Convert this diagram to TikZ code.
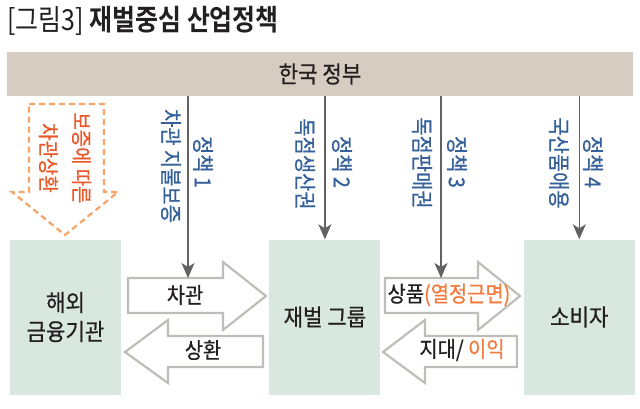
\documentclass[tikz,border=0pt]{standalone}
\usepackage{fontspec}
\setmainfont{Noto Sans CJK KR}[FakeStretch=0.9, FakeBold=0.6]
\newfontfamily\thinfont{Noto Sans CJK KR}[FakeStretch=0.86]
\newfontfamily\heavyfont{Noto Sans CJK KR Bold}[FakeStretch=0.86]
\usetikzlibrary{positioning, calc, arrows.meta}

\definecolor{govband}{HTML}{D6CCC1}
\definecolor{actorfill}{HTML}{D9E7E1}
\definecolor{policyblue}{HTML}{35609A}
\definecolor{policyline}{HTML}{626262}
\definecolor{flowgray}{HTML}{BEBEB8}
\definecolor{guaranteeline}{HTML}{F7A468}
\definecolor{guaranteetext}{HTML}{E8592A}
\definecolor{gainorange}{HTML}{F27A3C}
\definecolor{inkblack}{HTML}{231F20}

\begin{document}
\begin{tikzpicture}[
    x=1pt, y=-1pt,
    % Block styles
    band/.style={
      rectangle, fill=govband, inner sep=0pt,
      minimum width=626pt, minimum height=44pt,
      font=\fontsize{23.5}{26}\selectfont, text=inkblack
    },
    actor/.style={
      rectangle, fill=actorfill, inner sep=0pt,
      minimum width=111pt, minimum height=155pt,
      font=\fontsize{23.5}{29}\selectfont, text=inkblack, align=center
    },
    vlabel/.style={
      rotate=-90, inner sep=0pt,
      font=\fontsize{22}{24}\selectfont, text=policyblue
    },
    flowlabel/.style={
      inner sep=0pt, font=\fontsize{22}{24}\selectfont, text=inkblack
    },
    guaranteelabel/.style={
      rotate=-90, inner sep=0pt, align=center,
      font=\fontsize{21}{33}\selectfont, text=guaranteetext
    },
    % Line styles
    policy/.style={
      draw=policyline, line width=1.6pt,
      -{Stealth[length=15pt, width=13pt, inset=4pt]}
    },
    flow/.style={draw=flowgray, fill=white, line width=2.2pt, line join=miter},
    guarantee/.style={
      draw=guaranteeline, line width=2.2pt, dash pattern=on 6pt off 4pt
    },
  ]
  \useasboundingbox (0,0) rectangle (640,408);

  % === Title ===
  \node[anchor=west, inner sep=0pt, font=\fontsize{29}{32}\selectfont, text=inkblack]
    (title) at (7,21) {{\thinfont [그림3]} {\heavyfont 재벌중심 산업정책}};

  % === Government band ===
  \node[band] (gov) at (320,74) {한국 정부};

  % === Actors ===
  \node[actor] (fin) at (65.5,317) {해외\\금융기관};
  \node[actor, right=148pt of fin] (chaebol) {재벌 그룹};
  \node[actor, right=143pt of chaebol] (consumer) {소비자};

  % === Guarantee arrow (dashed) ===
  \draw[guarantee] (29,104) -- (104,104) -- (104,192) -- (118,192)
    -- (65,235) -- (12,192) -- (29,192) -- cycle;
  \node[guaranteelabel] (guarantee) at (65,158) {보증에 따른\\차관상환};

  % === Flow arrows ===
  \draw[flow] (128,278) -- (223,278) -- (223,262) -- (266,296)
    -- (223,330) -- (223,313) -- (128,313) -- cycle;
  \draw[flow] (263,336) -- (168,336) -- (168,320) -- (125,352)
    -- (168,383) -- (168,367) -- (263,367) -- cycle;
  \draw[flow] (385,278) -- (478,278) -- (478,262) -- (520,296)
    -- (478,330) -- (478,313) -- (385,313) -- cycle;
  \draw[flow] (517,336) -- (425,336) -- (425,320) -- (383,352)
    -- (425,383) -- (425,367) -- (517,367) -- cycle;

  \node[flowlabel] (loan) at (185,295) {차관};
  \node[flowlabel] (repay) at (203,350) {상환};
  \node[flowlabel] (goods) at (449,295) {상품\textcolor{gainorange}{(열정근면)}};
  \node[flowlabel] (rent) at (462,350) {지대/ \textcolor{gainorange}{이익}};

  % === Policy arrows ===
  \coordinate (loanhit) at (188,278);
  \coordinate (goodshit) at (441,278);
  \draw[policy] (gov.south -| loanhit) -- (loanhit);
  \draw[policy] (gov.south -| chaebol.north) -- (chaebol.north);
  \draw[policy] (gov.south -| goodshit) -- (goodshit);
  \draw[policy] (gov.south -| consumer.north) -- (consumer.north);

  \node[vlabel] (pol1) at (203,162) {정책 1};
  \node[vlabel] (grant1) at (171,166) {차관 지불보증};
  \node[vlabel] (pol2) at (342,162) {정책 2};
  \node[vlabel] (grant2) at (305,164) {독점생산권};
  \node[vlabel] (pol3) at (457,162) {정책 3};
  \node[vlabel] (grant3) at (422,163) {독점판매권};
  \node[vlabel] (pol4) at (593,162) {정책 4};
  \node[vlabel] (grant4) at (559,163) {국산품애용};

\end{tikzpicture}
\end{document}
